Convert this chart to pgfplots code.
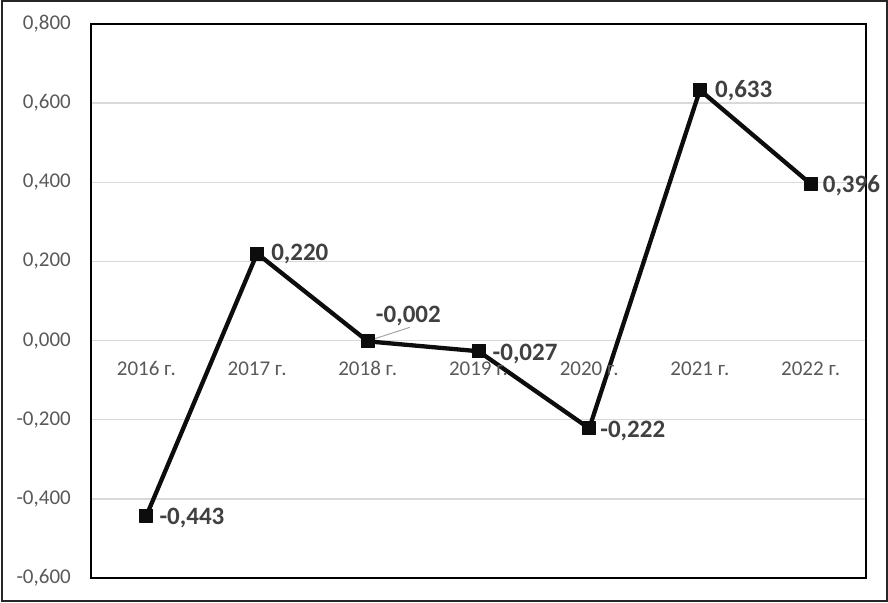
\documentclass[border=0pt]{standalone}
\usepackage{pgfplots}
\pgfplotsset{compat=1.18}
\usepackage{fontspec}
\setmainfont{Carlito}
\definecolor{tickgray}{HTML}{595959}
\definecolor{labgray}{HTML}{404040}
\definecolor{gridgray}{HTML}{D9D9D9}
\begin{document}
\begin{tikzpicture}
\useasboundingbox (0,0) rectangle (888pt,602pt);
\draw[line width=2pt, black!85] (1.5pt,1.5pt) rectangle (886.5pt,600.5pt);
\begin{axis}[at={(91pt,24pt)}, anchor=south west, scale only axis,
  width=775pt, height=554pt,
  xmin=-0.5, xmax=6.5, ymin=-0.6, ymax=0.8,
  xtick=\empty,
  ytick={-0.6,-0.4,-0.2,0,0.2,0.4,0.6,0.8},
  yticklabels={{-0,600},{-0,400},{-0,200},{0,000},{0,200},{0,400},{0,600},{0,800}},
  yticklabel style={font=\fontsize{21}{21}\selectfont, text=tickgray, inner sep=0pt},
  yticklabel shift=20pt,
  major tick length=0pt,
  ymajorgrids, grid style={gridgray, line width=1.5pt},
  axis line style={line width=1.5pt, black},
  clip=false]
\addplot[line width=4.3pt, black!95, line join=round, mark=square*, mark size=6.5pt,
  mark options={line width=1pt, rounded corners=2.5pt, fill=black!95}]
  coordinates {(0,-0.443)(1,0.220)(2,-0.002)(3,-0.027)(4,-0.222)(5,0.633)(6,0.396)};
% category labels
\tikzset{cl/.style={text=tickgray, font=\fontsize{21}{21}\selectfont}}
\node[cl] at ([yshift=-28pt]axis cs:0,0) {2016 г.};
\node[cl] at ([yshift=-28pt]axis cs:1,0) {2017 г.};
\node[cl] at ([yshift=-28pt]axis cs:2,0) {2018 г.};
\node[cl] at ([yshift=-28pt]axis cs:3,0) {2019 г.};
\node[cl] at ([yshift=-28pt]axis cs:4,0) {2020 г.};
\node[cl] at ([yshift=-28pt]axis cs:5,0) {2021 г.};
\node[cl] at ([yshift=-28pt]axis cs:6,0) {2022 г.};
% data labels
\tikzset{dl/.style={text=labgray, font=\bfseries\fontsize{25}{25}\selectfont, inner sep=0pt, anchor=west}}
\node[dl] at ([xshift=13pt,yshift=-2pt]axis cs:0,-0.443) {-0,443};
\node[dl] at ([xshift=14pt,yshift=0pt]axis cs:1,0.220) {0,220};
\draw[gray!70, line width=1pt] ([xshift=5pt,yshift=2pt]axis cs:2,-0.002) -- ([xshift=42pt,yshift=14pt]axis cs:2,-0.002);
\node[dl] at ([xshift=8pt,yshift=25pt]axis cs:2,-0.002) {-0,002};
\node[dl] at ([xshift=14pt,yshift=-3pt]axis cs:3,-0.027) {-0,027};
\node[dl] at ([xshift=11pt,yshift=-3pt]axis cs:4,-0.222) {-0,222};
\node[dl] at ([xshift=15pt,yshift=-1pt]axis cs:5,0.633) {0,633};
\node[dl] at ([xshift=12pt,yshift=-2pt]axis cs:6,0.396) {0,396};
\end{axis}
\end{tikzpicture}
\end{document}
